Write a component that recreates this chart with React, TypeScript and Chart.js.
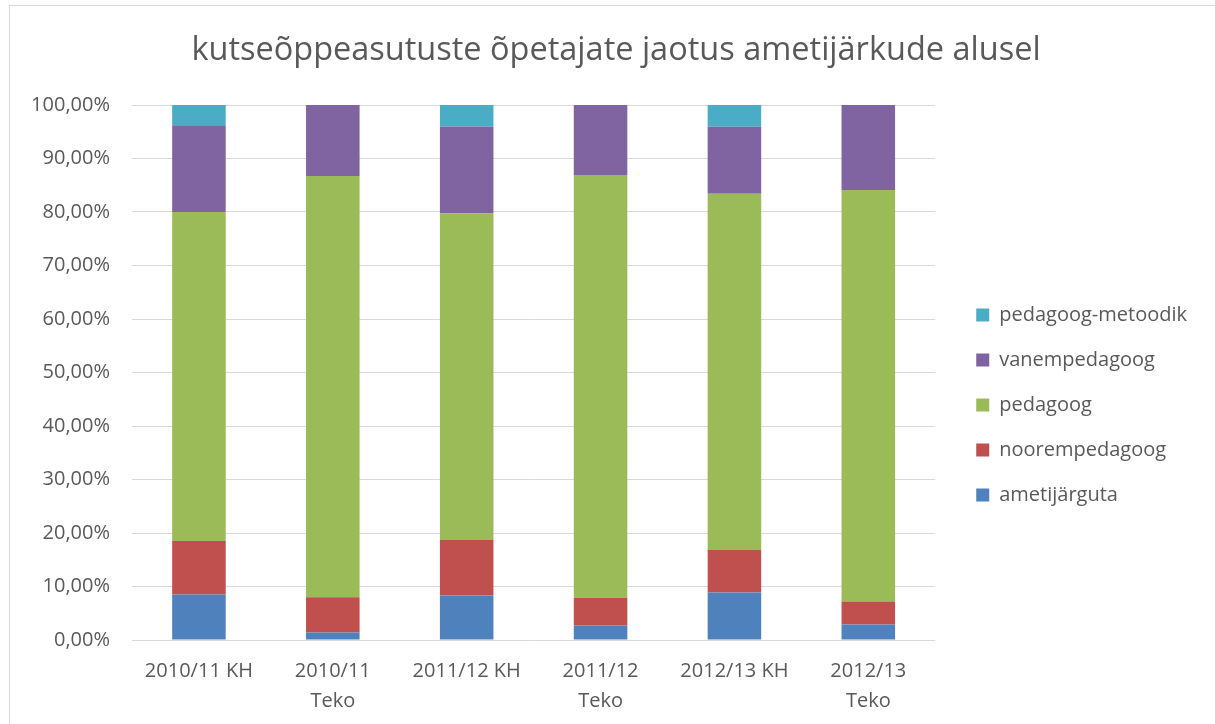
import React, { useEffect, useRef } from "react";
import { Chart, registerables } from "chart.js";

Chart.register(...registerables);

const TITLE = "kutseõppeasutuste õpetajate jaotus ametijärkude alusel";

const categoryLabels: string[][] = [
  ["2010/11 KH"],
  ["2010/11", "Teko"],
  ["2011/12 KH"],
  ["2011/12", "Teko"],
  ["2012/13 KH"],
  ["2012/13", "Teko"],
];

const ametijarguta = [8.5, 1.4, 8.3, 2.7, 8.9, 2.9];
const noorempedagoog = [10.0, 6.6, 10.4, 5.2, 7.9, 4.3];
const pedagoog = [61.5, 78.75, 61.0, 79.0, 66.6, 76.9];
const vanempedagoog = [16.2, 13.25, 16.3, 13.1, 12.55, 15.9];
const pedagoogMetoodik = [3.8, 0, 4.0, 0, 4.05, 0];

const yTicks = [0, 10, 20, 30, 40, 50, 60, 70, 80, 90, 100];

const FONT = "'Open Sans', 'Noto Sans', sans-serif";
const TEXT = "#595959";
const GRID = "#d9d9d9";

export default function App() {
  const ref = useRef<HTMLCanvasElement | null>(null);

  useEffect(() => {
    document.body.style.margin = "0";
    if (!ref.current) return;
    const chart = new Chart(ref.current, {
      type: "bar",
      data: {
        labels: categoryLabels,
        datasets: [
          { label: "ametijärguta", data: ametijarguta, backgroundColor: "#4f81bd" },
          { label: "noorempedagoog", data: noorempedagoog, backgroundColor: "#c0504d" },
          { label: "pedagoog", data: pedagoog, backgroundColor: "#9bbb59" },
          { label: "vanempedagoog", data: vanempedagoog, backgroundColor: "#8064a2" },
          { label: "pedagoog-metoodik", data: pedagoogMetoodik, backgroundColor: "#4bacc6" },
        ],
      },
      options: {
        animation: false,
        responsive: false,
        maintainAspectRatio: false,
        layout: { padding: { left: 17, top: 20, right: 0, bottom: 0 } },
        datasets: {
          bar: { categoryPercentage: 1, barPercentage: 0.4, borderWidth: 0 },
        },
        scales: {
          x: {
            stacked: true,
            grid: { display: false },
            border: { display: false },
            ticks: {
              color: TEXT,
              font: { family: FONT, size: 20, lineHeight: 1.5 },
              padding: 8,
              maxRotation: 0,
              autoSkip: false,
            },
          },
          y: {
            stacked: true,
            min: 0,
            max: 100,
            afterBuildTicks: (scale: any) => {
              scale.ticks = yTicks.map((v) => ({ value: v }));
            },
            afterFit: (scale: any) => {
              scale.width = 115;
            },
            grid: { color: GRID, lineWidth: 1, drawTicks: false },
            border: { display: false },
            ticks: {
              color: TEXT,
              font: { family: FONT, size: 20 },
              padding: 22,
              callback: (v: any) => Number(v).toFixed(2).replace(".", ",") + "%",
            },
          },
          gapInner: {
            type: "linear",
            position: "right",
            weight: 0,
            display: true,
            grid: { display: false },
            border: { display: false },
            ticks: { display: false },
            afterFit: (scale: any) => {
              scale.width = 31;
            },
          },
          gapOuter: {
            type: "linear",
            position: "right",
            weight: 2000,
            display: true,
            grid: { display: false },
            border: { display: false },
            ticks: { display: false },
            afterFit: (scale: any) => {
              scale.width = 18;
            },
          },
        },
        plugins: {
          title: {
            display: true,
            text: TITLE,
            color: TEXT,
            font: { family: FONT, size: 32.5, weight: "normal" },
            padding: { top: 11, bottom: 35 },
          },
          legend: {
            position: "right",
            reverse: true,
            maxWidth: 400,
            title: {
              display: true,
              text: " ",
              font: { size: 20 },
              padding: { top: 28, bottom: 29 },
            },
            labels: {
              boxWidth: 13,
              boxHeight: 13,
              padding: 10,
              color: TEXT,
              font: { family: FONT, size: 20, lineHeight: 1.75 },
              generateLabels: (c: any) =>
                Chart.defaults.plugins.legend.labels
                  .generateLabels(c)
                  .map((it: any) => ({ ...it, text: [it.text] })),
            },
          },
          tooltip: { enabled: false },
        },
      } as any,
    });
    return () => chart.destroy();
  }, []);

  return (
    <div
      style={{
        position: "fixed",
        left: 0,
        top: 0,
        width: 1215,
        height: 724,
        background: "#fff",
        overflow: "hidden",
      }}
    >
      <div
        style={{
          position: "absolute",
          left: 9,
          top: 5,
          width: 1300,
          height: 800,
          borderLeft: "1px solid #d9d9d9",
          borderTop: "1px solid #d9d9d9",
        }}
      />
      <canvas
        ref={ref}
        width={1215}
        height={724}
        style={{ position: "absolute", left: 0, top: 0, width: 1215, height: 724 }}
      />
    </div>
  );
}
